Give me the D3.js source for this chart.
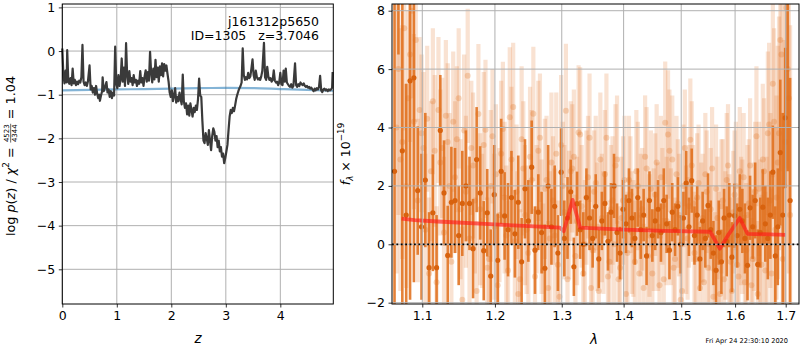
<!DOCTYPE html>
<html>
<head>
<meta charset="utf-8">
<script src="https://cdn.jsdelivr.net/npm/d3@7"></script>
<style>
  body { margin: 0; background: #fff; }
  svg { display: block; font-family: "DejaVu Sans", sans-serif; }
  text { white-space: pre; }
</style>
</head>
<body>
<svg id="fig" width="800" height="350"></svg>
<script>
// ---------- redshift probability, log p(z) ----------
const zGrid = [
  0.00,0.02,0.04,0.06,0.08,0.09,0.11,0.13,0.15,0.17,0.19,0.21,0.23,0.25,0.27,0.29,0.31,0.33,0.35,0.37,
  0.39,0.41,0.43,0.45,0.47,0.50,0.52,0.54,0.56,0.58,0.60,0.62,0.64,0.66,0.68,0.69,0.71,0.73,0.74,0.76,
  0.78,0.81,0.83,0.85,0.87,0.89,0.91,0.93,0.95,0.97,0.99,1.01,1.03,1.05,1.07,1.09,1.11,1.13,1.15,1.17,
  1.19,1.21,1.23,1.25,1.27,1.29,1.31,1.33,1.35,1.37,1.39,1.41,1.43,1.45,1.47,1.49,1.51,1.53,1.55,1.57,
  1.59,1.61,1.63,1.65,1.67,1.69,1.71,1.73,1.75,1.77,1.79,1.81,1.83,1.85,1.87,1.89,1.91,1.93,1.95,1.97,
  1.99,2.01,2.03,2.05,2.07,2.09,2.11,2.13,2.15,2.17,2.19,2.21,2.23,2.25,2.27,2.29,2.31,2.33,2.35,2.37,
  2.39,2.41,2.43,2.45,2.47,2.49,2.51,2.53,2.55,2.57,2.59,2.61,2.63,2.65,2.67,2.69,2.71,2.73,2.75,2.77,
  2.79,2.81,2.83,2.85,2.87,2.89,2.91,2.93,2.95,2.97,2.99,3.01,3.03,3.05,3.07,3.09,3.11,3.13,3.15,3.17,
  3.19,3.21,3.23,3.25,3.27,3.29,3.31,3.33,3.35,3.37,3.39,3.41,3.43,3.45,3.47,3.49,3.51,3.53,3.55,3.57,
  3.59,3.61,3.63,3.65,3.67,3.70,3.72,3.74,3.76,3.78,3.80,3.82,3.84,3.86,3.88,3.90,3.92,3.94,3.96,3.98,
  4.00,4.02,4.04,4.06,4.08,4.10,4.12,4.14,4.16,4.18,4.20,4.22,4.24,4.27,4.29,4.31,4.33,4.35,4.37,4.39,
  4.41,4.43,4.45,4.47,4.49,4.51,4.53,4.55,4.57,4.59,4.61,4.63,4.65,4.67,4.69,4.71,4.73,4.75,4.77,4.79,
  4.81,4.83,4.85,4.87,4.89,4.91,4.93,4.95,4.96
];
const logPz = [
  0.06,-0.55,-0.74,-0.45,-0.72,0.02,-0.68,-0.75,-0.62,-0.78,-0.40,-0.74,-0.66,-0.78,-0.70,-0.76,-0.68,-0.72,-0.60,0.14,
  -0.70,-0.78,-0.72,-0.80,-0.70,-0.33,-0.88,-0.80,-0.95,-0.85,-1.00,-0.80,-0.98,-1.08,-1.00,-1.14,-1.02,-0.92,-0.60,-0.92,
  -0.85,-0.71,-0.95,-0.88,-1.05,-0.92,-1.08,-0.95,-1.02,0.10,-0.75,-0.85,-0.55,-0.80,-0.65,-0.17,-0.70,-0.38,-0.80,0.18,
  -0.55,-0.75,-0.46,-0.70,-0.62,-0.78,-0.55,-0.72,-0.66,-0.80,-0.68,-0.75,-0.46,-0.72,-0.62,-0.80,-0.58,-0.44,-0.70,-0.48,
  -0.68,-0.02,-0.50,-0.72,-0.40,-0.65,-0.20,-0.60,-0.38,-0.70,-0.35,-0.55,-0.28,-0.58,-0.30,-0.45,-0.33,-0.52,-0.70,-0.95,
  -1.05,-0.90,-1.15,-1.02,-0.85,-1.18,-1.05,-1.15,-0.95,-1.10,-1.22,-0.54,-1.15,-1.30,-1.20,-1.45,-1.25,-1.48,-1.20,-1.35,
  -1.50,-1.30,-1.40,-1.25,-1.35,-1.10,-0.63,-1.02,-1.05,-1.60,-2.05,-2.11,-1.88,-2.00,-2.15,-1.81,-2.05,-2.27,-1.95,-1.77,
  -1.85,-2.05,-1.95,-2.20,-2.05,-2.30,-2.20,-2.42,-2.35,-2.57,-2.45,-2.30,-2.15,-1.81,-1.50,-1.35,-1.42,-1.30,-1.38,-1.25,
  -1.10,-1.00,-0.92,-0.85,-0.80,-0.72,0.06,-0.55,-0.66,-0.60,-0.65,-0.50,-0.62,-0.58,-0.40,-0.19,-0.55,-0.66,-0.45,-0.60,
  -0.65,-0.62,-0.66,-0.58,-0.45,0.19,-0.60,-0.66,-0.36,-0.58,-0.66,-0.62,-0.70,-0.66,-0.44,-0.68,-0.72,-0.70,-0.78,-0.72,
  -0.50,-0.76,-0.78,-0.45,-0.70,-0.40,-0.72,-0.76,-0.80,-0.82,-0.76,-0.84,-0.80,-0.28,-0.78,-0.82,-0.76,-0.80,-0.72,-0.76,
  -0.78,-0.74,-0.80,-0.82,-0.80,-0.84,-0.82,-0.86,-0.84,-0.88,-0.92,-0.86,-0.90,-0.85,-0.88,-0.82,-0.57,-0.90,-0.94,-0.88,
  -0.86,-0.90,-0.88,-0.92,-0.88,-0.90,-0.88,-0.84,-0.48
];
// smooth prior curve
const priorZ = [0.0, 0.5, 1.0, 1.5, 2.0, 2.5, 3.0, 3.5, 4.0, 4.5, 4.97];
const priorLogP = [-0.90, -0.89, -0.88, -0.87, -0.86, -0.85, -0.845, -0.85, -0.87, -0.89, -0.91];

// ---------- spectrum: primary (dark) extraction ----------
const darkWave = [
  1.064,1.069,1.074,1.079,1.084,1.089,1.094,1.099,1.104,1.109,
  1.114,1.119,1.124,1.129,1.134,1.139,1.144,1.149,1.154,1.159,
  1.164,1.169,1.174,1.179,1.184,1.189,1.194,1.199,1.204,1.209,
  1.214,1.219,1.224,1.229,1.234,1.239,1.244,1.249,1.254,1.259,
  1.264,1.269,1.274,1.279,1.284,1.289,1.294,1.299,1.304,1.309,
  1.314,1.319,1.324,1.329,1.334,1.339,1.344,1.349,1.354,1.359,
  1.364,1.369,1.374,1.379,1.384,1.389,1.394,1.399,1.404,1.409,
  1.414,1.419,1.424,1.429,1.434,1.439,1.444,1.449,1.454,1.459,
  1.464,1.469,1.474,1.479,1.484,1.489,1.494,1.499,1.504,1.509,
  1.514,1.519,1.524,1.529,1.534,1.539,1.544,1.549,1.554,1.559,
  1.564,1.569,1.574,1.579,1.584,1.589,1.594,1.599,1.604,1.609,
  1.614,1.619,1.624,1.629,1.634,1.639,1.644,1.649,1.654,1.659,
  1.664,1.669,1.674,1.679,1.684,1.689,1.694,1.699,1.704,1.709
];
const darkFlux = [
  2.5,9.8,3.2,1.0,5.6,5.7,1.84,0.6,2.2,-0.8,
  1.08,-0.8,3.9,1.76,-0.38,1.44,1.5,0.3,1.4,2.0,
  1.4,-0.15,2.9,1.76,-0.22,1.08,-1.09,1.7,-0.55,2.5,
  0.97,0.5,1.6,0.36,1.44,-0.6,1.9,0.8,2.64,-0.2,
  1.1,0.4,-0.82,2.0,0.6,1.3,-0.3,2.47,0.2,0.9,
  1.8,-0.77,1.39,0.5,0.0,1.6,0.9,0.2,1.3,-0.5,
  0.8,1.4,0.1,1.1,2.0,0.4,-0.3,1.2,0.7,1.5,
  0.9,0.2,1.6,0.5,1.0,-0.4,1.5,0.3,0.8,1.2,
  0.4,1.5,0.7,-0.2,1.1,0.5,1.3,0.0,0.9,2.1,
  0.6,2.18,0.3,1.0,-0.5,0.8,0.2,1.33,0.5,-0.3,
  -0.89,0.4,-0.6,0.9,0.1,1.0,-0.44,0.98,0.3,1.2,
  0.8,0.2,-0.72,1.25,0.6,1.5,-0.69,0.4,1.27,0.7,
  0.2,1.0,2.47,-0.4,0.6,3.14,1.0,4.33,8.5,1.5
];
const darkErr = [
  6.0,3.3,5.3,4.5,7.5,7.0,2.2,2.5,2.3,1.9,
  2.0,1.8,1.9,1.8,1.7,1.9,1.8,1.7,1.8,1.9,
  1.6,1.7,1.8,1.6,1.7,1.5,1.6,1.7,1.6,1.8,
  1.5,1.6,1.6,1.5,1.6,1.5,1.7,1.4,1.6,1.5,
  1.3,1.4,1.5,1.4,1.3,1.4,1.3,1.5,1.3,1.4,
  1.1,1.0,1.1,1.0,1.1,1.0,1.1,1.0,1.1,1.0,
  1.0,1.1,1.0,1.0,1.1,1.0,0.9,1.0,1.0,1.1,
  1.0,0.9,1.0,1.0,0.9,1.0,1.0,0.9,1.0,1.0,
  1.0,1.1,1.0,1.0,1.0,0.9,1.0,1.0,0.9,1.1,
  1.0,1.1,1.0,1.0,1.1,1.0,1.0,1.1,1.0,1.1,
  1.2,1.1,1.1,1.0,1.2,1.1,1.2,1.1,1.1,1.2,
  1.1,1.2,1.2,1.1,1.1,1.3,1.2,1.2,1.3,1.3,
  1.4,1.5,1.6,1.7,2.0,2.5,3.5,2.4,6.0,4.2
];

// ---------- spectrum: secondary (light) extractions ----------
const lightWave = [
  1.0665,1.0715,1.0765,1.0815,1.0865,1.0915,1.0965,1.1015,1.1065,1.1115,
  1.1165,1.1215,1.1265,1.1315,1.1365,1.1415,1.1465,1.1515,1.1565,1.1615,
  1.1665,1.1715,1.1765,1.1815,1.1865,1.1915,1.1965,1.2015,1.2065,1.2115,
  1.2165,1.2215,1.2265,1.2315,1.2365,1.2415,1.2465,1.2515,1.2565,1.2615,
  1.2665,1.2715,1.2765,1.2815,1.2865,1.2915,1.2965,1.3015,1.3065,1.3115,
  1.3165,1.3215,1.3265,1.3315,1.3365,1.3415,1.3465,1.3515,1.3565,1.3615,
  1.3665,1.3715,1.3765,1.3815,1.3865,1.3915,1.3965,1.4015,1.4065,1.4115,
  1.4165,1.4215,1.4265,1.4315,1.4365,1.4415,1.4465,1.4515,1.4565,1.4615,
  1.4665,1.4715,1.4765,1.4815,1.4865,1.4915,1.4965,1.5015,1.5065,1.5115,
  1.5165,1.5215,1.5265,1.5315,1.5365,1.5415,1.5465,1.5515,1.5565,1.5615,
  1.5665,1.5715,1.5765,1.5815,1.5865,1.5915,1.5965,1.6015,1.6065,1.6115,
  1.6165,1.6215,1.6265,1.6315,1.6365,1.6415,1.6465,1.6515,1.6565,1.6615,
  1.6665,1.6715,1.6765,1.6815,1.6865,1.6915,1.6965,1.7015,1.7065
];
const lightFlux = [
  4.0,2.9,7.4,5.0,8.0,7.0,4.6,3.3,4.3,2.5,
  3.2,4.6,3.3,4.4,2.0,4.2,3.6,1.2,3.9,5.77,
  3.3,1.5,4.46,0.8,3.92,-0.5,3.7,2.4,1.0,3.95,
  0.3,4.35,4.7,1.8,-1.2,2.6,0.5,3.0,4.47,1.2,
  3.65,-0.9,2.2,0.2,1.5,3.1,-1.8,2.0,4.57,1.0,
  2.6,-0.4,3.83,1.3,0.0,2.3,-1.5,1.8,0.6,2.9,
  0.4,3.65,-0.6,1.5,2.7,-1.2,0.9,2.2,-0.3,1.7,
  0.2,2.5,-1.0,1.2,3.0,-0.4,1.9,0.5,2.8,-1.4,
  1.3,4.16,3.76,0.6,-0.8,2.4,1.0,-1.6,3.3,0.2,
  3.58,1.4,-0.5,2.1,0.7,-1.3,1.8,0.0,2.6,-0.9,
  0.9,-1.7,1.5,0.3,2.7,-0.6,1.1,2.0,-1.1,0.8,
  2.3,-0.2,1.4,-1.4,0.6,3.7,1.9,-0.7,2.5,0.4,
  4.1,-1.0,4.2,1.6,3.8,6.5,2.0,8.1,5.0
];
const lightErr = [
  5.0,4.5,3.5,3.0,3.0,2.8,2.5,2.6,2.5,2.4,
  2.6,2.5,2.4,2.6,2.5,2.4,2.5,2.4,2.6,2.3,
  2.3,2.5,2.4,2.3,2.4,2.5,2.3,2.4,2.3,2.3,
  2.4,2.4,2.2,2.3,2.4,2.3,2.2,2.4,2.3,2.2,
  2.2,2.3,2.2,2.3,2.2,2.1,2.3,2.2,2.3,2.2,
  2.2,2.1,2.3,2.1,2.2,2.1,2.2,2.1,2.2,2.3,
  2.1,2.2,2.1,2.2,2.1,2.0,2.1,2.2,2.1,2.0,
  2.0,2.1,2.0,2.1,2.1,2.0,2.0,2.1,2.0,2.1,
  2.0,2.1,2.2,2.0,2.1,2.0,2.1,2.0,2.0,2.1,
  2.1,2.0,2.1,2.0,2.1,2.0,2.1,2.0,2.1,2.0,
  2.1,2.2,2.1,2.2,2.1,2.2,2.1,2.2,2.1,2.2,
  2.2,2.3,2.2,2.3,2.2,2.4,2.3,2.4,2.5,2.6,
  2.8,2.9,3.2,3.5,4.0,4.5,5.0,5.5,6.0
];
const light2Wave = [
  1.069,1.074,1.079,1.084,1.089,1.094,1.099,1.104,1.109,1.114,
  1.119,1.124,1.129,1.134,1.139,1.144,1.149,1.154,1.159,1.164,
  1.169,1.174,1.179,1.184,1.189,1.194,1.199,1.204,1.209,1.214,
  1.219,1.224,1.229,1.234,1.239,1.244,1.249,1.254,1.259,1.264,
  1.269,1.274,1.279,1.284,1.289,1.294,1.299,1.304,1.309,1.314,
  1.319,1.324,1.329,1.334,1.339,1.344,1.349,1.354,1.359,1.364,
  1.369,1.374,1.379,1.384,1.389,1.394,1.399,1.404,1.409,1.414,
  1.419,1.424,1.429,1.434,1.439,1.444,1.449,1.454,1.459,1.464,
  1.469,1.474,1.479,1.484,1.489,1.494,1.499,1.504,1.509,1.514,
  1.519,1.524,1.529,1.534,1.539,1.544,1.549,1.554,1.559,1.564,
  1.569,1.574,1.579,1.584,1.589,1.594,1.599,1.604,1.609,1.614,
  1.619,1.624,1.629,1.634,1.639,1.644,1.649,1.654,1.659,1.664,
  1.669,1.674,1.679,1.684,1.689,1.694,1.699,1.704,1.709
];
const light2Flux = [
  6.0,3.5,2.0,6.5,4.2,1.5,3.8,0.5,-1.0,4.9,
  -1.3,2.8,0.4,3.5,-0.6,2.3,5.0,-1.9,1.8,0.2,
  2.7,-1.6,1.2,3.4,-0.8,2.0,0.6,-1.4,3.1,1.6,
  -0.9,2.9,0.1,-1.7,3.6,1.0,-0.3,2.2,-1.1,3.2,
  0.6,1.9,-1.5,2.8,0.3,-0.7,3.4,1.1,-1.2,2.5,
  3.0,0.8,3.76,-1.0,1.6,3.65,-0.2,2.1,-1.6,0.9,
  2.4,-1.1,1.2,0.0,2.9,-0.8,1.5,-1.7,2.2,0.4,
  -0.6,2.0,1.0,-1.5,2.6,0.3,-1.0,1.7,0.6,2.3,
  -1.2,0.8,3.2,2.9,-0.5,1.4,-1.9,2.0,0.5,1.3,
  2.7,-0.3,1.6,-1.5,0.9,2.4,-0.8,1.2,-1.8,1.9,
  -0.4,1.3,-1.2,2.2,0.2,-1.6,1.7,-0.7,2.5,0.6,
  -1.3,1.0,2.7,-0.5,1.8,-1.7,0.4,2.9,-0.9,3.8,
  1.5,5.5,0.5,2.8,7.0,-0.5,3.5,6.0,1.0
];
const light2Err = [
  5.0,4.0,3.5,3.0,3.0,2.8,2.7,2.6,2.6,2.5,
  2.6,2.5,2.6,2.7,2.5,2.6,2.4,2.5,2.6,2.5,
  2.5,2.4,2.6,2.5,2.4,2.6,2.5,2.4,2.5,2.6,
  2.4,2.5,2.4,2.3,2.5,2.4,2.3,2.4,2.3,2.4,
  2.3,2.4,2.3,2.4,2.3,2.2,2.4,2.3,2.3,2.4,
  2.3,2.2,2.3,2.2,2.3,2.2,2.2,2.3,2.2,2.2,
  2.2,2.1,2.2,2.1,2.2,2.1,2.2,2.1,2.2,2.1,
  2.1,2.2,2.1,2.2,2.1,2.1,2.2,2.1,2.2,2.1,
  2.1,2.2,2.1,2.2,2.1,2.2,2.1,2.1,2.2,2.1,
  2.2,2.1,2.2,2.1,2.2,2.1,2.2,2.1,2.2,2.2,
  2.2,2.3,2.2,2.3,2.2,2.3,2.2,2.3,2.2,2.3,
  2.3,2.4,2.3,2.4,2.4,2.5,2.5,2.6,2.7,2.8,
  3.0,3.2,3.5,4.0,4.5,5.0,5.5,6.0,6.5
];

// ---------- best-fit template ----------
const modelWave = [1.073,1.09,1.12,1.20,1.25,1.297,1.303,1.317,1.329,1.40,1.47,1.553,1.571,1.588,1.609,1.624,1.700];
const modelFlux = [0.88,0.83,0.78,0.68,0.62,0.57,0.45,1.52,0.57,0.50,0.46,0.43,-0.15,0.35,0.90,0.36,0.32];

// ---------- tick labels ----------
const pzXTicks = [0, 1, 2, 3, 4];
const pzYTicks = [1, 0, -1, -2, -3, -4, -5];
const specXTicks = [1.1, 1.2, 1.3, 1.4, 1.5, 1.6, 1.7];
const specYTicks = [8, 6, 4, 2, 0, -2];

const svg = d3.select("#fig");
const TOP = 4, BOTTOM = 304;
const GRID = "#b0b0b0";
const TICK_FS = 12.5;
const fmt = d3.format("");
const minus = s => String(s).replace("-", "\u2212");

// ===== left panel: log p(z) =====
const L = { x0: 62.3, x1: 333.3 };
const xz = d3.scaleLinear().domain([0, 4.972]).range([L.x0, L.x1]);
const yp = d3.scaleLinear().domain([-5.795, 1.078]).range([BOTTOM, TOP]);

const gl = svg.append("g");
gl.selectAll(".gx").data(pzXTicks).join("line")
  .attr("x1", d => xz(d)).attr("x2", d => xz(d)).attr("y1", TOP).attr("y2", BOTTOM)
  .attr("stroke", GRID).attr("stroke-width", 1);
gl.selectAll(".gy").data(pzYTicks).join("line")
  .attr("x1", L.x0).attr("x2", L.x1).attr("y1", d => yp(d)).attr("y2", d => yp(d))
  .attr("stroke", GRID).attr("stroke-width", 1);

const pzData = zGrid.map((z, i) => [z, logPz[i]]);
const priorData = priorZ.map((z, i) => [z, priorLogP[i]]);
gl.append("path").datum(priorData)
  .attr("d", d3.line().x(d => xz(d[0])).y(d => yp(d[1])).curve(d3.curveMonotoneX))
  .attr("fill", "none").attr("stroke", "#1f77b4").attr("stroke-opacity", 0.55).attr("stroke-width", 2.2);
gl.append("path").datum(pzData).attr("d", d3.line().x(d => xz(d[0])).y(d => yp(d[1])))
  .attr("fill", "none").attr("stroke", "#3a3a3a").attr("stroke-width", 2.2).attr("stroke-linejoin", "round");

const axL = d3.axisLeft(yp).tickValues(pzYTicks).tickSize(3.5).tickPadding(3.5).tickFormat(d => minus(fmt(d)));
const axB = d3.axisBottom(xz).tickValues(pzXTicks).tickSize(3.5).tickPadding(3.5).tickFormat(d => fmt(d));
const gla = gl.append("g").attr("transform", `translate(${L.x0},0)`).call(axL);
const glb = gl.append("g").attr("transform", `translate(0,${BOTTOM})`).call(axB);
[gla, glb].forEach(a => {
  a.select(".domain").remove();
  a.selectAll("text").attr("font-size", TICK_FS).attr("font-family", "DejaVu Sans").attr("fill", "#000");
  a.selectAll("line").attr("stroke", "#000").attr("stroke-width", 0.8);
});
gl.append("rect").attr("x", L.x0).attr("y", TOP).attr("width", L.x1 - L.x0).attr("height", BOTTOM - TOP)
  .attr("fill", "none").attr("stroke", "#000").attr("stroke-width", 1);

// object annotation
gl.append("text").attr("x", 319).attr("y", 25.5).attr("text-anchor", "end").attr("font-size", 12.5).text("j161312p5650");
gl.append("text").attr("x", 319).attr("y", 40).attr("text-anchor", "end").attr("font-size", 12.5).text("ID=1305   z=3.7046");

gl.append("text").attr("x", xz(2.5) - 0.5).attr("y", 343).attr("text-anchor", "middle")
  .attr("font-size", 13.5).attr("font-style", "italic").text("z");

// y label: log p(z) / χ² = 4523/4344 = 1.04
(function () {
  const fs = 12.8, ffs = 7;
  const g = svg.append("g");
  const t = g.append("text").attr("font-size", fs);
  t.append("tspan").text("log ");
  t.append("tspan").attr("font-style", "italic").text("p");
  t.append("tspan").text("(");
  t.append("tspan").attr("font-style", "italic").text("z");
  t.append("tspan").text(") / ");
  t.append("tspan").attr("font-style", "italic").text("\u03c7");
  t.append("tspan").attr("font-size", fs * 0.7).attr("dy", -fs * 0.42).text("2");
  t.append("tspan").attr("dy", fs * 0.42).text(" = ");
  const w1 = t.node().getComputedTextLength();
  const num = g.append("text").attr("font-size", ffs).attr("text-anchor", "middle").text("4523");
  const den = g.append("text").attr("font-size", ffs).attr("text-anchor", "middle").text("4344");
  const fw = Math.max(num.node().getComputedTextLength(), den.node().getComputedTextLength());
  const cx = w1 + 1 + fw / 2;
  const axisY = -fs * 0.3;
  num.attr("x", cx).attr("y", axisY - 1.2);
  den.attr("x", cx).attr("y", axisY + 1.2 + ffs * 0.73);
  g.append("line").attr("x1", w1 + 0.5).attr("x2", w1 + fw + 1.5).attr("y1", axisY).attr("y2", axisY)
    .attr("stroke", "#000").attr("stroke-width", 0.6);
  const t3 = g.append("text").attr("font-size", fs).attr("x", w1 + fw + 2).text(" = 1.04");
  const W = w1 + fw + 2 + t3.node().getComputedTextLength();
  g.attr("transform", `translate(14.5,${156 + W / 2}) rotate(-90)`);
})();

// ===== right panel: spectrum =====
const R = { x0: 392, x1: 799 };
const xw = d3.scaleLog().domain([1.0608, 1.7273]).range([R.x0, R.x1]);
const yf = d3.scaleLinear().domain([-2.045, 8.23]).range([BOTTOM, TOP]);

svg.append("clipPath").attr("id", "specClip").append("rect")
  .attr("x", R.x0).attr("y", TOP).attr("width", R.x1 - R.x0).attr("height", BOTTOM - TOP);
const gr = svg.append("g");
const gd = gr.append("g").attr("clip-path", "url(#specClip)");

const ORANGE = "#e0701c";
const pack = (w, f, e) => w.map((v, i) => ({ w: v, f: f[i], e: e[i] }));
const light = pack(lightWave, lightFlux, lightErr).concat(pack(light2Wave, light2Flux, light2Err));
const dark = pack(darkWave, darkFlux, darkErr);

gd.selectAll(".lb").data(light).join("line")
  .attr("x1", d => xw(d.w)).attr("x2", d => xw(d.w))
  .attr("y1", d => yf(d.f - d.e)).attr("y2", d => yf(d.f + d.e))
  .attr("stroke", ORANGE).attr("stroke-opacity", 0.2).attr("stroke-width", 4.2);
gd.selectAll(".lp").data(light).join("circle")
  .attr("cx", d => xw(d.w)).attr("cy", d => yf(d.f)).attr("r", 3)
  .attr("fill", ORANGE).attr("fill-opacity", 0.26);
gd.selectAll(".db").data(dark).join("line")
  .attr("x1", d => xw(d.w)).attr("x2", d => xw(d.w))
  .attr("y1", d => yf(d.f - d.e)).attr("y2", d => yf(d.f + d.e))
  .attr("stroke", ORANGE).attr("stroke-opacity", 0.88).attr("stroke-width", 2.6);
gd.selectAll(".dp").data(dark).join("circle")
  .attr("cx", d => xw(d.w)).attr("cy", d => yf(d.f)).attr("r", 2.6)
  .attr("fill", "#d8620e");

// grid above data
gr.selectAll(".gx").data(specXTicks).join("line")
  .attr("x1", d => xw(d)).attr("x2", d => xw(d)).attr("y1", TOP).attr("y2", BOTTOM)
  .attr("stroke", GRID).attr("stroke-width", 1);
gr.selectAll(".gy").data(specYTicks).join("line")
  .attr("x1", R.x0).attr("x2", R.x1).attr("y1", d => yf(d)).attr("y2", d => yf(d))
  .attr("stroke", GRID).attr("stroke-width", 1);

// template
const model = modelWave.map((w, i) => [w, modelFlux[i]]);
gd.append("path").datum(model).attr("d", d3.line().x(d => xw(d[0])).y(d => yf(d[1])))
  .attr("fill", "none").attr("stroke", "#ff1a1a").attr("stroke-opacity", 0.65).attr("stroke-width", 3.8)
  .attr("stroke-linejoin", "round");

// zero level
gr.append("line").attr("x1", R.x0).attr("x2", R.x1).attr("y1", yf(0)).attr("y2", yf(0))
  .attr("stroke", "#000").attr("stroke-width", 1.8).attr("stroke-dasharray", "1.8,2.6");

const axRL = d3.axisLeft(yf).tickValues(specYTicks).tickSize(3.5).tickPadding(3.5).tickFormat(d => minus(fmt(d)));
const axRB = d3.axisBottom(xw).tickValues(specXTicks).tickSize(3.5).tickPadding(3.5).tickFormat(d3.format(".1f"));
const gra = gr.append("g").attr("transform", `translate(${R.x0},0)`).call(axRL);
const grb = gr.append("g").attr("transform", `translate(0,${BOTTOM})`).call(axRB);
[gra, grb].forEach(a => {
  a.select(".domain").remove();
  a.selectAll("text").attr("font-size", TICK_FS).attr("font-family", "DejaVu Sans").attr("fill", "#000");
  a.selectAll("line").attr("stroke", "#000").attr("stroke-width", 0.8);
});
gr.append("rect").attr("x", R.x0).attr("y", TOP).attr("width", R.x1 - R.x0).attr("height", BOTTOM - TOP)
  .attr("fill", "none").attr("stroke", "#000").attr("stroke-width", 1);

gr.append("text").attr("x", 594).attr("y", 344).attr("text-anchor", "middle")
  .attr("font-size", 13.5).attr("font-style", "italic").text("\u03bb");

// y label: f_λ × 10^−19
(function () {
  const fs = 12.5;
  const g = svg.append("g");
  const t = g.append("text").attr("font-size", fs);
  t.append("tspan").attr("font-style", "italic").text("f");
  t.append("tspan").attr("font-style", "italic").attr("font-size", fs * 0.7).attr("dy", fs * 0.25).text("\u03bb");
  t.append("tspan").attr("dy", -fs * 0.25).text(" \u00d7 10");
  t.append("tspan").attr("font-size", fs * 0.7).attr("dy", -fs * 0.45).text("\u221219");
  const W = t.node().getComputedTextLength();
  g.attr("transform", `translate(350,${154 + W / 2}) rotate(-90)`);
})();

// timestamp
svg.append("text").attr("x", 788).attr("y", 342.5).attr("text-anchor", "end")
  .attr("font-size", 6.6).text("Fri Apr 24 22:30:10 2020");
</script>
</body>
</html>
